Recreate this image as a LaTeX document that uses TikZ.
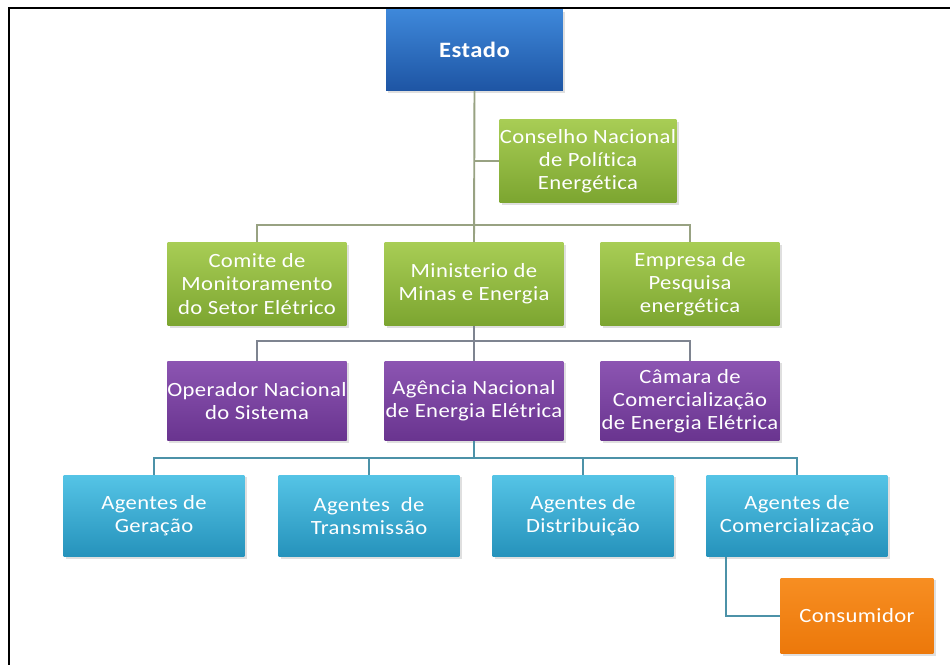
\documentclass[tikz,border=0pt]{standalone}
\usepackage{fontspec}
\setmainfont{Carlito}[FakeStretch=1.12,LetterSpace=2,Ligatures=NoCommon]
\usepackage{xcolor}
\definecolor{ink}{HTML}{FFFFFF}
\definecolor{govtop}{HTML}{3E88DA}
\definecolor{govbot}{HTML}{1E55A4}
\definecolor{poltop}{HTML}{A8CD55}
\definecolor{polbot}{HTML}{7CA530}
\definecolor{regtop}{HTML}{8C55B2}
\definecolor{regbot}{HTML}{69348F}
\definecolor{agtop}{HTML}{55C4E6}
\definecolor{agbot}{HTML}{2592BB}
\definecolor{constop}{HTML}{F78E22}
\definecolor{consbot}{HTML}{EC780A}
\definecolor{polline}{HTML}{98A282}
\definecolor{regline}{HTML}{7E8490}
\definecolor{agline}{HTML}{4C92A8}
\usepackage{tikz}
\usetikzlibrary{calc,shadows}

\begin{document}
\begin{tikzpicture}[x=0.02cm,y=-0.02cm,every node/.style={font=\fontsize{11.5}{13.2}\selectfont,text=ink}]
\tikzstyle{box}=[rectangle,minimum width=3.58cm,minimum height=1.62cm,align=center,inner sep=0pt,
  drop shadow={shadow xshift=1.2pt,shadow yshift=-1.2pt,opacity=0.25}]
\tikzstyle{gov}=[box,top color=govtop,bottom color=govbot]
\tikzstyle{pol}=[box,top color=poltop,bottom color=polbot,minimum height=1.66cm]
\tikzstyle{reg}=[box,top color=regtop,bottom color=regbot,minimum height=1.6cm]
\tikzstyle{ag}=[box,top color=agtop,bottom color=agbot,minimum width=3.62cm,minimum height=1.64cm]
\tikzstyle{cons}=[box,top color=constop,bottom color=consbot,minimum width=3.06cm,minimum height=1.52cm]
\useasboundingbox (0,0) rectangle (950,665);
\fill[white] (0,0) rectangle (950,665);
% moldura
\draw[black,line width=1.2pt] (9,665) -- (9,8) -- (950,8);
% nos
\node[gov,minimum width=3.54cm] (estado) at (474.5,50) {\bfseries\fontsize{12.5}{14}\selectfont Estado};
\node[pol,minimum width=3.54cm] (cnpe) at (588,161) {Conselho Nacional\\de Política\\Energética};
\node[pol] (cmse) at (257,284) {Comite de\\Monitoramento\\do Setor Elétrico};
\node[pol] (mme) at (474,284) {Ministerio de\\Minas e Energia};
\node[pol] (epe) at (690,284) {Empresa de\\Pesquisa\\energética};
\node[reg] (ons) at (257,401) {Operador Nacional\\do Sistema};
\node[reg] (aneel) at (474,401) {Agência Nacional\\de Energia Elétrica};
\node[reg] (ccee) at (690,401) {Câmara de\\Comercialização\\de Energia Elétrica};
\node[ag] (ger) at (154,516) {Agentes de\\Geração};
\node[ag] (tra) at (369,516) {Agentes~ de\\Transmissão};
\node[ag] (dis) at (583,516) {Agentes de\\Distribuição};
\node[ag] (com) at (797,516) {Agentes de\\Comercialização};
\node[cons] (cons) at (857,616) {Consumidor};
\coordinate (bar1) at (474,225);
\coordinate (bar2) at (474,341);
\coordinate (bar3) at (474,458);
\coordinate (comdown) at ($(com.south west)+(20,0)$);
% ligacoes
\draw[polline,line width=1.1pt] (estado.south) -- (mme.north);
\draw[polline,line width=1.1pt] (cnpe.west) -- (cnpe.west -| estado.south);
\draw[polline,line width=1.1pt] (cmse.north) |- (bar1) -| (epe.north);
\draw[regline,line width=1.1pt] (mme.south) -- (aneel.north);
\draw[regline,line width=1.1pt] (ons.north) |- (bar2) -| (ccee.north);
\draw[agline,line width=1.1pt] (aneel.south) -- (bar3);
\draw[agline,line width=1.1pt] (ger.north) |- (bar3) -| (com.north);
\draw[agline,line width=1.1pt] (tra.north) -- (tra.north |- bar3);
\draw[agline,line width=1.1pt] (dis.north) -- (dis.north |- bar3);
\draw[agline,line width=1.1pt] (comdown) |- (cons.west);
\end{tikzpicture}
\end{document}
